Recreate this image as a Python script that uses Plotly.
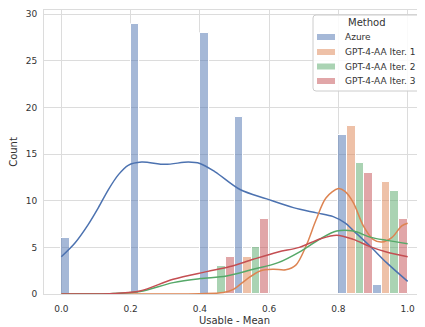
import plotly.graph_objects as go

methods = ["Azure", "GPT-4-AA Iter. 1", "GPT-4-AA Iter. 2", "GPT-4-AA Iter. 3"]
bar_colors = ["rgba(76,114,176,0.5)", "rgba(221,132,82,0.5)", "rgba(85,168,104,0.5)", "rgba(196,78,82,0.5)"]
line_colors = ["#4C72B0", "#DD8452", "#55A868", "#C44E52"]

bin_edges = [0.0, 0.1, 0.2, 0.3, 0.4, 0.5, 0.6, 0.7, 0.8, 0.9]
bin_width = 0.1
counts = {
    "Azure":            [6, 0, 29, 0, 28, 19, 0, 0, 17, 1],
    "GPT-4-AA Iter. 1": [0, 0, 0, 0, 0, 4, 0, 0, 18, 12],
    "GPT-4-AA Iter. 2": [0, 0, 0, 0, 3, 5, 0, 0, 14, 11],
    "GPT-4-AA Iter. 3": [0, 0, 0, 0, 4, 8, 0, 0, 13, 8],
}

# KDE curves
azure_kde_x = [0.0, 0.04, 0.078, 0.107, 0.136, 0.165, 0.193, 0.232, 0.30, 0.367, 0.40, 0.444, 0.516, 0.593, 0.67, 0.737, 0.785, 0.82, 0.843, 0.891, 0.939, 1.0]
azure_kde_y = [4.0, 5.5, 7.47, 9.26, 11.2, 12.8, 13.8, 14.15, 13.9, 14.15, 14.0, 13.1, 11.2, 10.2, 9.26, 8.7, 8.3, 7.6, 6.8, 5.14, 3.36, 1.35]

it1_kde_x = [0.0, 0.2, 0.4, 0.468, 0.497, 0.535, 0.574, 0.612, 0.648, 0.677, 0.706, 0.735, 0.764, 0.80, 0.819, 0.843, 0.872, 0.90, 0.925, 0.954, 0.983, 1.0]
it1_kde_y = [0.0, 0.0, 0.03, 0.15, 0.5, 1.58, 2.47, 2.65, 2.6, 3.1, 5.1, 7.9, 10.3, 11.3, 11.0, 9.8, 7.3, 5.86, 5.57, 6.04, 7.3, 7.58]

it2_kde_x = [0.0, 0.1, 0.15, 0.227, 0.323, 0.40, 0.477, 0.554, 0.626, 0.687, 0.747, 0.795, 0.843, 0.891, 0.939, 1.0]
it2_kde_y = [0.0, 0.0, 0.05, 0.26, 1.22, 1.65, 1.93, 2.65, 3.36, 4.5, 5.9, 6.75, 6.75, 6.1, 5.75, 5.4]

it3_kde_x = [0.0, 0.1, 0.15, 0.227, 0.323, 0.42, 0.487, 0.554, 0.626, 0.687, 0.747, 0.795, 0.843, 0.891, 0.939, 1.0]
it3_kde_y = [0.0, 0.0, 0.06, 0.32, 1.58, 2.4, 2.94, 3.72, 4.5, 5.0, 5.9, 6.3, 5.86, 5.08, 4.5, 4.0]

kde_x = [azure_kde_x, it1_kde_x, it2_kde_x, it3_kde_x]
kde_y = [azure_kde_y, it1_kde_y, it2_kde_y, it3_kde_y]

# page body has an 8px margin, so the figure is shrunk to fit the window
OX, OY = 8, 8
W, H = 425 - OX, 327 - OY
ML, MR, MT, MB = 44 - OX, 0, 10 - OY, 33
PW, PH = W - ML - MR, H - MT - MB


def px(x):
    return (x - OX - ML) / PW


def py(y):
    return 1 - (y - OY - MT) / PH


fig = go.Figure()
n = len(methods)
sub_w = bin_width / n
for k, m in enumerate(methods):
    xs = [e + (k + 0.5) * sub_w for e in bin_edges]
    fig.add_trace(go.Bar(
        x=xs, y=counts[m], width=sub_w, name=m,
        marker=dict(color=bar_colors[k], line=dict(color="white", width=1)),
        showlegend=False, hoverinfo="skip",
    ))
for k, m in enumerate(methods):
    fig.add_trace(go.Scatter(
        x=kde_x[k], y=kde_y[k], mode="lines",
        line=dict(color=line_colors[k], width=1.5, shape="spline", smoothing=0.9),
        showlegend=False, hoverinfo="skip",
    ))

grid = "#dcdcdc"
text_color = "#333333"

# Legend drawn by hand (matplotlib-style box)
x0, x1, y0, y1, r = px(313), px(421), py(15), py(91), 3
rx, ry = r / PW, r / PH
path = (f"M {x0+rx},{y0} L {x1-rx},{y0} Q {x1},{y0} {x1},{y0-ry} "
        f"L {x1},{y1+ry} Q {x1},{y1} {x1-rx},{y1} L {x0+rx},{y1} "
        f"Q {x0},{y1} {x0},{y1+ry} L {x0},{y0-ry} Q {x0},{y0} {x0+rx},{y0} Z")
shapes = [dict(type="path", path=path, xref="paper", yref="paper",
               line=dict(color="#cccccc", width=1), fillcolor="rgba(255,255,255,0.85)", layer="above")]
annotations = [dict(text="Method", x=px(367), y=py(22.5), xref="paper", yref="paper",
                    showarrow=False, xanchor="center", yanchor="middle",
                    font=dict(size=10, color=text_color))]
row_y = [37, 52, 66.5, 81]
for k, m in enumerate(methods):
    shapes.append(dict(type="rect", xref="paper", yref="paper",
                       x0=px(317), x1=px(335), y0=py(row_y[k] - 3), y1=py(row_y[k] + 3),
                       fillcolor=bar_colors[k], line=dict(width=0), layer="above"))
    annotations.append(dict(text=m, x=px(343), y=py(row_y[k]), xref="paper", yref="paper",
                            showarrow=False, xanchor="left", yanchor="middle",
                            font=dict(size=9, color=text_color)))

fig.update_layout(
    width=W, height=H,
    margin=dict(l=ML, r=MR, t=MT, b=MB, autoexpand=False),
    paper_bgcolor="white", plot_bgcolor="white",
    barmode="overlay", bargap=0, showlegend=False,
    font=dict(family="DejaVu Sans", size=10, color=text_color),
    xaxis=dict(
        range=[-0.05, 1.05], tickvals=[0.0, 0.2, 0.4, 0.6, 0.8, 1.0],
        ticktext=["0.0", "0.2", "0.4", "0.6", "0.8", "1.0"],
        showgrid=True, gridcolor=grid, gridwidth=1, zeroline=False,
        showline=True, linecolor=grid, mirror=True, ticks="", automargin=False,
        ticklabelstandoff=6,
        title=dict(text="Usable - Mean", standoff=4, font=dict(size=10)),
        tickfont=dict(size=9),
    ),
    yaxis=dict(
        range=[0, 30.45], tickvals=[0, 5, 10, 15, 20, 25, 30],
        showgrid=True, gridcolor=grid, gridwidth=1, zeroline=False,
        showline=True, linecolor=grid, mirror=True, ticks="", automargin=False,
        ticklabelstandoff=4,
        title=dict(text="Count", standoff=8, font=dict(size=10)),
        tickfont=dict(size=9),
    ),
    shapes=shapes, annotations=annotations,
)

fig.write_html("out.html")
